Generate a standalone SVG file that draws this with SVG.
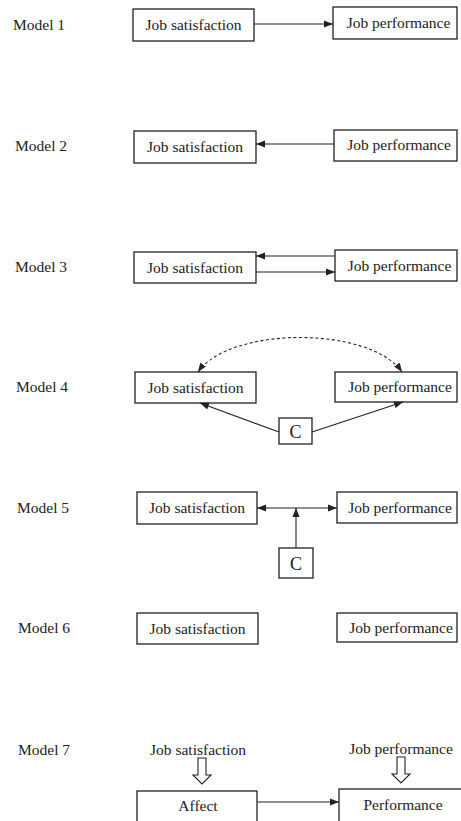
<svg xmlns="http://www.w3.org/2000/svg" width="461" height="821" viewBox="0 0 461 821">
<style>
.box{fill:#fff;stroke:#222;stroke-width:1.3}
.t{font-family:"Liberation Serif",serif;font-size:15.5px;fill:#222}
.c{font-family:"Liberation Serif",serif;font-size:18px;fill:#222}
.m{text-anchor:middle}
.ln{fill:none;stroke:#222;stroke-width:1.1}
.dash{fill:none;stroke:#222;stroke-width:1.1;stroke-dasharray:3 2.5}
.hollow{fill:#fff;stroke:#222;stroke-width:1.1}
</style>
<defs>
<marker id="ah" markerUnits="userSpaceOnUse" markerWidth="10" markerHeight="8" refX="9" refY="4" orient="auto-start-reverse">
<path d="M0,0.5 L9,4 L0,7.5 Z" fill="#222"/>
</marker>
</defs>
<rect width="461" height="821" fill="#fff"/>
<g id="labels">
<text class="t" x="13" y="30">Model 1</text>
<text class="t" x="15" y="151">Model 2</text>
<text class="t" x="15" y="272">Model 3</text>
<text class="t" x="16" y="392">Model 4</text>
<text class="t" x="17" y="513">Model 5</text>
<text class="t" x="18" y="633">Model 6</text>
<text class="t" x="18" y="755">Model 7</text>
</g>
<g id="m1-sat"><rect class="box" x="133" y="9" width="121" height="32"/><text class="t m" x="193.5" y="30">Job satisfaction</text></g>
<g id="m1-perf"><rect class="box" x="333" y="7" width="124" height="32"/><text class="t m" x="398.5" y="28">Job performance</text></g>
<g id="m2-sat"><rect class="box" x="134" y="131" width="122" height="32"/><text class="t m" x="195" y="152">Job satisfaction</text></g>
<g id="m2-perf"><rect class="box" x="334" y="130" width="123" height="31"/><text class="t m" x="399" y="150">Job performance</text></g>
<g id="m3-sat"><rect class="box" x="134" y="252" width="122" height="31"/><text class="t m" x="195" y="272.5">Job satisfaction</text></g>
<g id="m3-perf"><rect class="box" x="335" y="250" width="122" height="31"/><text class="t m" x="399.5" y="270.5">Job performance</text></g>
<g id="m4-sat"><rect class="box" x="135" y="372" width="121" height="31"/><text class="t m" x="195.5" y="392.5">Job satisfaction</text></g>
<g id="m4-perf"><rect class="box" x="335" y="372" width="122" height="30"/><text class="t m" x="400" y="392">Job performance</text></g>
<g id="m4-c"><rect class="box" x="279" y="418" width="33" height="26"/><text class="c m" x="295.5" y="437.5">C</text></g>
<g id="m5-sat"><rect class="box" x="137" y="492" width="120" height="32"/><text class="t m" x="197" y="513">Job satisfaction</text></g>
<g id="m5-perf"><rect class="box" x="337" y="492" width="120" height="31"/><text class="t m" x="400" y="512.5">Job performance</text></g>
<g id="m5-c"><rect class="box" x="279" y="548" width="34" height="30"/><text class="c m" x="296" y="569.5">C</text></g>
<g id="m6-sat"><rect class="box" x="137" y="613" width="121" height="31"/><text class="t m" x="197.5" y="633.5">Job satisfaction</text></g>
<g id="m6-perf"><rect class="box" x="337" y="613" width="120" height="29"/><text class="t m" x="401" y="632.5">Job performance</text></g>
<g id="m7-sat-label"><text class="t m" x="198" y="755">Job satisfaction</text></g>
<g id="m7-perf-label"><text class="t m" x="401" y="754">Job performance</text></g>
<g id="m7-affect"><rect class="box" x="137" y="791" width="120" height="32"/><text class="t m" x="198" y="811">Affect</text></g>
<g id="m7-performance"><rect class="box" x="339" y="789" width="124" height="34"/><text class="t m" x="403" y="810">Performance</text></g>
<g id="connectors">
<line class="ln" x1="254" y1="24" x2="333" y2="24" marker-end="url(#ah)"/>
<line class="ln" x1="334" y1="144" x2="256" y2="144" marker-end="url(#ah)"/>
<line class="ln" x1="335" y1="256" x2="256" y2="256" marker-end="url(#ah)"/>
<line class="ln" x1="256" y1="272" x2="335" y2="272" marker-end="url(#ah)"/>
<path class="dash" d="M198,372 C230,326 370,326 402,372" marker-start="url(#ah)" marker-end="url(#ah)"/>
<line class="ln" x1="279" y1="432" x2="200" y2="403" marker-end="url(#ah)"/>
<line class="ln" x1="312" y1="432" x2="403" y2="402" marker-end="url(#ah)"/>
<line class="ln" x1="257" y1="508" x2="337" y2="508" marker-start="url(#ah)" marker-end="url(#ah)"/>
<line class="ln" x1="296" y1="548" x2="296" y2="508" marker-end="url(#ah)"/>
<polygon class="hollow" points="198,758 206,758 206,775 211,775 202,784 193,775 198,775"/>
<polygon class="hollow" points="397,757 405,757 405,774 410,774 401,783 392,774 397,774"/>
<line class="ln" x1="257" y1="802" x2="339" y2="802" marker-end="url(#ah)"/>
</g>
</svg>
